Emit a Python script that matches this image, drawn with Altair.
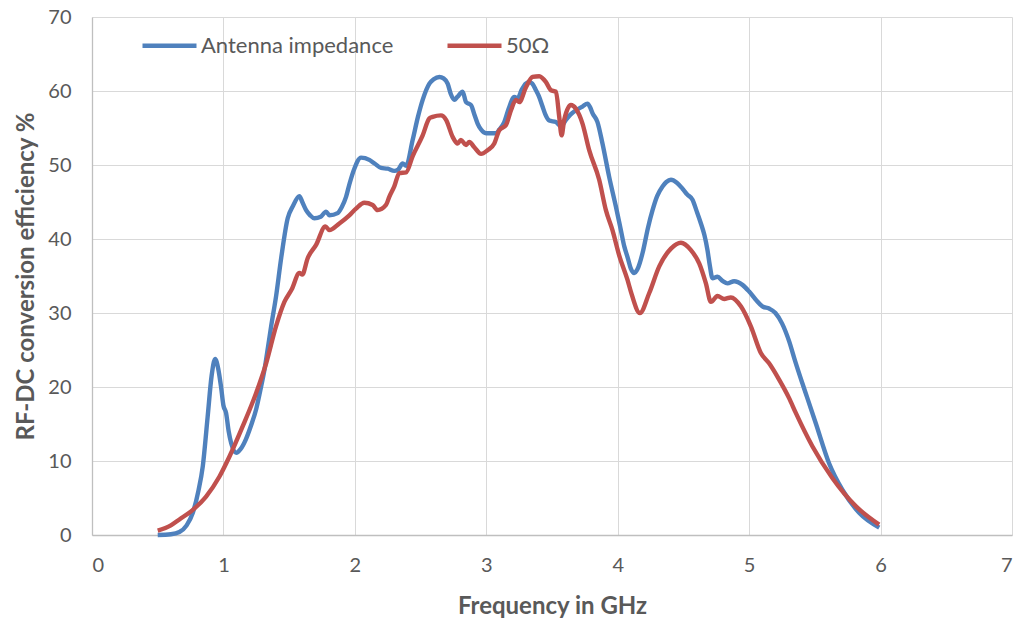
import altair as alt
import pandas as pd

# Antenna impedance (blue)
blue_x = [0.50, 0.60, 0.665, 0.72, 0.767, 0.81, 0.843, 0.88, 0.91, 0.937, 0.96, 0.982, 1.00, 1.02, 1.04,
          1.059, 1.097, 1.13, 1.17, 1.21, 1.249, 1.28, 1.312, 1.34, 1.363, 1.40, 1.44, 1.489, 1.53, 1.578,
          1.60, 1.629, 1.66, 1.692, 1.74, 1.781, 1.806, 1.869, 1.90, 1.933, 1.96, 1.996, 2.047, 2.11, 2.15,
          2.20, 2.25, 2.30, 2.33, 2.364, 2.39, 2.44, 2.48, 2.516, 2.567, 2.60, 2.643, 2.675, 2.706, 2.73,
          2.757, 2.78, 2.82, 2.846, 2.884, 2.91, 2.934, 2.96, 2.998, 3.074, 3.10, 3.137, 3.17, 3.213, 3.238,
          3.27, 3.30, 3.327, 3.35, 3.378, 3.40, 3.428, 3.45, 3.479, 3.53, 3.568, 3.606, 3.64, 3.682, 3.732,
          3.77, 3.79, 3.808, 3.846, 3.884, 3.935, 3.986, 4.024, 4.05, 4.074, 4.10, 4.125, 4.15, 4.189, 4.23,
          4.265, 4.30, 4.341, 4.37, 4.405, 4.45, 4.493, 4.53, 4.569, 4.60, 4.633, 4.66, 4.683, 4.70, 4.721,
          4.759, 4.80, 4.835, 4.886, 4.949, 5.00, 5.051, 5.101, 5.152, 5.20, 5.25, 5.304, 5.35, 5.405, 5.443,
          5.507, 5.608, 5.71, 5.837, 5.99]
blue_y = [0.0, 0.1, 0.4, 1.3, 3.0, 6.0, 9.3, 16.0, 21.5, 23.8, 22.5, 20.0, 17.5, 16.5, 14.0,
          12.4, 11.1, 11.6, 12.9, 14.8, 17.0, 19.5, 22.3, 25.5, 28.2, 32.2, 37.5, 42.8, 44.5, 45.8,
          45.0, 43.9, 43.2, 42.8, 43.0, 43.7, 43.2, 43.5, 44.3, 45.7, 47.5, 49.5, 51.0, 50.7, 50.2,
          49.6, 49.5, 49.2, 49.4, 50.2, 49.9, 53.4, 56.5, 58.8, 61.0, 61.6, 61.9, 61.7, 61.0, 59.6,
          58.8, 59.2, 59.9, 58.5, 58.1, 56.8, 55.6, 54.8, 54.3, 54.3, 54.8, 55.8, 57.6, 59.2, 59.0,
          60.2, 61.0, 61.2, 61.0, 60.1, 59.3, 57.9, 56.8, 56.0, 55.8, 55.2, 56.1, 56.8, 57.4, 57.9,
          58.3, 57.8, 57.0, 55.8, 52.9, 48.4, 44.4, 41.2, 39.0, 37.6, 36.0, 35.4, 35.9, 38.1, 41.5,
          43.9, 45.8, 47.1, 47.7, 48.0, 47.6, 46.8, 46.0, 45.3, 43.8, 42.1, 40.5, 38.5, 36.5, 34.7,
          34.9, 34.3, 34.0, 34.3, 33.8, 32.9, 31.8, 30.9, 30.6, 30.0, 28.6, 26.2, 23.5, 20.5, 18.5,
          15.1, 9.7, 6.1, 3.0, 1.0]

# 50 Ohm (red)
red_x = [0.50, 0.60, 0.665, 0.767, 0.868, 0.97, 1.046, 1.147, 1.249, 1.325, 1.40, 1.464, 1.52, 1.578,
         1.60, 1.641, 1.705, 1.776, 1.806, 1.882, 1.958, 2.009, 2.072, 2.135, 2.173, 2.237, 2.262, 2.30,
         2.338, 2.39, 2.44, 2.516, 2.567, 2.592, 2.655, 2.694, 2.744, 2.782, 2.807, 2.846, 2.871, 2.909,
         2.96, 3.01, 3.061, 3.099, 3.15, 3.188, 3.226, 3.251, 3.302, 3.352, 3.403, 3.454, 3.492, 3.53,
         3.555, 3.573, 3.593, 3.644, 3.682, 3.732, 3.783, 3.859, 3.91, 3.96, 4.011, 4.074, 4.10, 4.169,
         4.24, 4.316, 4.405, 4.481, 4.557, 4.62, 4.671, 4.709, 4.759, 4.81, 4.861, 4.937, 5.013, 5.089,
         5.152, 5.228, 5.304, 5.355, 5.481, 5.633, 5.811, 5.989]
red_y = [0.6, 1.3, 2.1, 3.4, 5.2, 7.9, 10.6, 14.7, 19.2, 23.2, 28.2, 31.5, 33.2, 35.4,
         35.2, 37.4, 39.2, 41.7, 41.2, 42.1, 43.2, 44.1, 44.9, 44.6, 43.9, 44.6, 45.7, 47.1,
         48.9, 49.0, 51.2, 54.0, 56.3, 56.5, 56.7, 56.1, 53.8, 52.9, 53.4, 52.7, 53.1, 52.4,
         51.5, 52.0, 52.9, 54.7, 55.4, 57.4, 58.8, 58.5, 60.5, 61.9, 62.0, 61.2, 60.1, 59.9,
         56.5, 54.0, 56.1, 58.1, 57.6, 55.6, 52.0, 48.0, 43.9, 41.2, 37.8, 34.5, 32.9, 30.0,
         32.7, 36.3, 38.7, 39.5, 38.5, 36.7, 34.0, 31.5, 32.3, 31.9, 32.1, 30.9, 28.2, 24.6,
         23.2, 21.0, 18.5, 16.5, 12.0, 7.7, 3.9, 1.4]

series_names = ["Antenna impedance", "50Ω"]
series_colors = ["#4F81BD", "#C0504D"]
x_ticks = [0, 1, 2, 3, 4, 5, 6, 7]
y_ticks = [0, 10, 20, 30, 40, 50, 60, 70]

df = pd.concat([
    pd.DataFrame({"f": blue_x, "eff": blue_y, "series": series_names[0]}),
    pd.DataFrame({"f": red_x, "eff": red_y, "series": series_names[1]}),
], ignore_index=True)

FONT = "Lato"
GREY = "#595959"

x_enc = alt.X("f:Q", scale=alt.Scale(domain=[0, 7], nice=False),
              axis=alt.Axis(values=x_ticks, title="Frequency in GHz", grid=True, gridColor="#d9d9d9",
                            domainColor="#bfbfbf", domainWidth=1.3, ticks=False, labelFontSize=20,
                            labelColor=GREY, labelPadding=20, labelFont=FONT, titleFont=FONT,
                            titleFontSize=24, titleFontWeight="bold", titleColor=GREY, titlePadding=19))
y_enc = alt.Y("eff:Q", scale=alt.Scale(domain=[0, 70], nice=False),
              axis=alt.Axis(values=y_ticks, title="RF-DC conversion efficiency %", grid=True,
                            gridColor="#d9d9d9", domainColor="#bfbfbf", domainWidth=1.3, ticks=False,
                            labelFontSize=20, labelColor=GREY, labelPadding=21, labelFont=FONT,
                            titleFont=FONT, titleFontSize=24, titleFontWeight="bold", titleColor=GREY,
                            titlePadding=9))
color_enc = alt.Color("series:N", sort=series_names,
                      scale=alt.Scale(domain=series_names, range=series_colors),
                      legend=alt.Legend(title=None, orient="none", legendX=48, legendY=-1,
                                        direction="horizontal", symbolType="stroke",
                                        symbolSize=2916, symbolStrokeWidth=4.5, labelFontSize=22,
                                        labelFont=FONT, labelColor=GREY, labelOffset=2,
                                        labelLimit=400, columnPadding=44, padding=0))

base = alt.Chart(df).mark_line(strokeWidth=4.4, interpolate="monotone")
blue = base.transform_filter(alt.datum.series == series_names[0]).encode(x=x_enc, y=y_enc, color=color_enc)
red = base.transform_filter(alt.datum.series == series_names[1]).encode(x=x_enc, y=y_enc, color=color_enc)

chart = alt.layer(blue, red).properties(
    width=920, height=518,
    autosize=alt.AutoSizeParams(type="none"),
    padding={"left": 92, "top": 17, "right": 11, "bottom": 88},
    background="white",
).configure_view(stroke=None)

chart.save("out.html", embed_options={"renderer": "svg", "actions": False})
